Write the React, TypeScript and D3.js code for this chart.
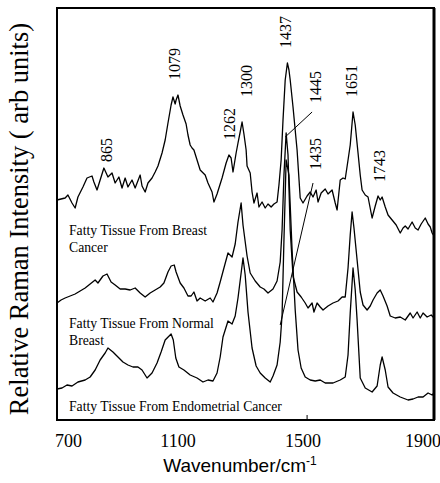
import React from "react";
import * as d3 from "d3";

// Fatty tissue from breast cancer (top trace)
const cancerWavenumber = [
  700, 713, 726, 735, 748, 758, 767, 783, 796, 812,
  818, 828, 838, 850, 863, 876, 886, 898, 908, 918,
  927, 940, 950, 966, 972, 982, 991, 1004, 1014, 1023,
  1036, 1046, 1055, 1065, 1071, 1078, 1081, 1087, 1094, 1103,
  1113, 1119, 1126, 1132, 1138, 1148, 1158, 1174, 1183, 1196,
  1202, 1212, 1228, 1241, 1250, 1257, 1263, 1273, 1279, 1286,
  1292, 1298, 1305, 1308, 1318, 1324, 1330, 1340, 1346, 1356,
  1366, 1375, 1385, 1394, 1404, 1410, 1417, 1423, 1430, 1437,
  1442, 1446, 1455, 1468, 1478, 1487, 1500, 1510, 1519, 1529,
  1535, 1545, 1558, 1567, 1580, 1590, 1596, 1606, 1615, 1622,
  1631, 1638, 1647, 1654, 1663, 1670, 1676, 1686, 1695, 1708,
  1718, 1727, 1734, 1740, 1750, 1759, 1772, 1785, 1798, 1807,
  1814, 1823, 1836, 1846, 1855, 1865, 1878, 1887, 1894, 1900,
  1906,
];
const cancerIntensity = [
  220, 221, 222, 225, 217, 212, 223, 233, 242, 244,
  238, 230, 240, 252, 243, 247, 237, 243, 232, 242,
  233, 240, 232, 245, 234, 228, 237, 242, 248, 254,
  267, 280, 297, 315, 323, 316, 320, 325, 314, 305,
  296, 285, 275, 272, 270, 260, 250, 245, 237, 228,
  218, 226, 242, 257, 265, 262, 248, 267, 277, 288,
  298, 286, 270, 254, 247, 228, 217, 227, 213, 218,
  212, 216, 213, 216, 218, 235, 260, 300, 340, 357,
  350, 340, 313, 270, 222, 217, 224, 228, 223, 230,
  218, 227, 231, 226, 230, 217, 210, 240, 242, 241,
  260, 275, 308, 295, 267, 245, 230, 225, 223, 202,
  214, 224, 220, 223, 213, 205, 200, 195, 187, 192,
  194, 191, 198, 192, 190, 196, 202, 196, 193, 187,
  184,
];

// Fatty tissue from normal breast (middle trace)
const normalWavenumber = [
  700, 713, 726, 742, 758, 774, 790, 806, 822, 831,
  847, 860, 873, 886, 902, 918, 934, 950, 966, 982,
  998, 1014, 1030, 1042, 1055, 1065, 1075, 1081, 1094, 1106,
  1119, 1129, 1138, 1148, 1158, 1174, 1190, 1199, 1212, 1222,
  1234, 1247, 1260, 1270, 1279, 1289, 1295, 1308, 1318, 1334,
  1350, 1362, 1375, 1391, 1404, 1414, 1420, 1426, 1433, 1439,
  1446, 1455, 1468, 1481, 1494, 1503, 1516, 1522, 1532, 1542,
  1551, 1567, 1583, 1599, 1612, 1622, 1631, 1638, 1644, 1650,
  1660, 1670, 1679, 1692, 1702, 1711, 1724, 1734, 1743, 1756,
  1766, 1782, 1798, 1814, 1830, 1839, 1852, 1862, 1871, 1884,
  1897, 1906,
];
const normalIntensity = [
  117, 120, 122, 124, 126, 129, 132, 136, 140, 137,
  144, 146, 138, 135, 131, 131, 130, 132, 127, 123,
  127, 130, 133, 137, 148, 154, 155, 148, 137, 132,
  124, 124, 128, 119, 122, 119, 122, 118, 127, 138,
  152, 167, 163, 176, 198, 217, 195, 164, 147, 139,
  133, 131, 127, 131, 139, 158, 190, 245, 287, 265,
  190, 144, 128, 123, 117, 112, 117, 108, 117, 113,
  110, 114, 117, 119, 123, 123, 152, 185, 208, 192,
  160, 128, 115, 110, 114, 120, 127, 130, 124, 114,
  104, 102, 103, 100, 107, 102, 108, 102, 107, 103,
  105, 102,
];

// Fatty tissue from endometrial cancer (bottom trace)
const endometrialWavenumber = [
  700, 716, 732, 748, 767, 790, 806, 822, 838, 854,
  863, 879, 895, 911, 927, 943, 959, 972, 988, 1004,
  1020, 1033, 1046, 1065, 1072, 1080, 1090, 1106, 1126, 1148,
  1167, 1183, 1199, 1212, 1222, 1231, 1247, 1260, 1270, 1279,
  1295, 1302, 1311, 1324, 1337, 1350, 1366, 1382, 1391, 1404,
  1414, 1420, 1426, 1433, 1442, 1452, 1462, 1471, 1481, 1494,
  1510, 1526, 1542, 1558, 1583, 1606, 1622, 1631, 1638, 1647,
  1654, 1660, 1670, 1686, 1708, 1724, 1734, 1740, 1750, 1759,
  1775, 1798, 1823, 1839, 1855, 1871, 1887, 1900, 1906,
];
const endometrialIntensity = [
  31, 32, 35, 34, 38, 40, 43, 50, 60, 67,
  72, 68, 63, 58, 55, 53, 53, 50, 42, 47,
  57, 68, 80, 86, 80, 62, 53, 50, 45, 42,
  38, 40, 39, 47, 63, 83, 99, 96, 104, 122,
  162, 145, 108, 72, 54, 47, 42, 38, 44, 55,
  78, 105, 180, 260, 245, 170, 110, 70, 52, 43,
  40, 39, 40, 37, 37, 40, 43, 65, 107, 152,
  130, 100, 42, 32, 28, 34, 55, 63, 50, 33,
  27, 23, 20, 21, 23, 23, 27, 25, 27,
];

const xTickValues = [700, 1100, 1500, 1900];
const peakLabels = ["865", "1079", "1262", "1300", "1437", "1445", "1435", "1651", "1743"];
const peakLabelWavenumber = [858, 1077, 1252, 1306, 1431, 1528, 1528, 1643, 1733];
const peakLabelIntensity = [258, 340, 280, 323, 372, 317, 250, 323, 238];

const sampleNames = [
  ["Fatty Tissue From Breast", "Cancer"],
  ["Fatty Tissue From Normal", "Breast"],
  ["Fatty Tissue From Endometrial Cancer"],
];
const sampleLabelIntensity = [185, 92, 9];

// leader lines: [from wavenumber, from intensity, to wavenumber, to intensity]
const leaderLines = [
  [1516, 308, 1430, 283],
  [1519, 237, 1414, 95],
];

const W = 440;
const H = 483;
const M = { left: 57, right: 434, top: 8, bottom: 420 };

export default function App() {
  const x = d3.scaleLinear().domain([700, 1906]).range([M.left, M.right]);
  const y = d3.scaleLinear().domain([0, 412]).range([M.bottom, M.top]);
  const line = d3
    .line<[number, number]>()
    .x((d) => x(d[0]))
    .y((d) => y(d[1]))
    .curve(d3.curveLinear);

  const series = [
    d3.zip(cancerWavenumber, cancerIntensity) as [number, number][],
    d3.zip(normalWavenumber, normalIntensity) as [number, number][],
    d3.zip(endometrialWavenumber, endometrialIntensity) as [number, number][],
  ];

  const serif = "'Liberation Serif', 'Times New Roman', serif";
  const sans = "'Liberation Sans', Arial, sans-serif";

  return (
    <svg width={W} height={H} style={{ position: "absolute", left: 0, top: 0, background: "#fff" }}>
      <rect x={0} y={0} width={W} height={H} fill="#fff" />
      {series.map((s, i) => (
        <path key={i} d={line(s) ?? ""} fill="none" stroke="#000" strokeWidth={1.3} strokeLinejoin="round" />
      ))}
      {leaderLines.map((l, i) => (
        <line key={i} x1={x(l[0])} y1={y(l[1])} x2={x(l[2])} y2={y(l[3])} stroke="#000" strokeWidth={1} />
      ))}
      {peakLabels.map((t, i) => {
        const px = x(peakLabelWavenumber[i]);
        const py = y(peakLabelIntensity[i]);
        return (
          <text
            key={t + i}
            transform={`translate(${px},${py}) rotate(-90)`}
            fontFamily={serif}
            fontSize={16}
            dominantBaseline="central"
            textAnchor="start"
          >
            {t}
          </text>
        );
      })}
      {sampleNames.map((lines, i) =>
        lines.map((t, j) => (
          <text key={`${i}-${j}`} x={69} y={y(sampleLabelIntensity[i]) + j * 17} fontFamily={serif} fontSize={13.7}>
            {t}
          </text>
        ))
      )}
      {/* frame */}
      <rect x={M.left} y={M.top} width={M.right - M.left} height={M.bottom - M.top} fill="none" stroke="#000" strokeWidth={2} />
      <line x1={M.right} y1={M.top} x2={M.right} y2={M.bottom} stroke="#000" strokeWidth={3} />
      <line x1={x(1500)} y1={M.bottom} x2={x(1500)} y2={M.bottom - 5} stroke="#000" strokeWidth={1} />
      {xTickValues.map((v, i) => {
        const last = i === xTickValues.length - 1;
        const anchor = i === 0 ? "start" : last ? "end" : "middle";
        const tx = i === 0 ? x(v) - 2 : last ? x(v) + 9 : x(v) - 4;
        return (
          <text key={v} x={tx} y={447} textAnchor={anchor} fontFamily={serif} fontSize={18}>
            {v}
          </text>
        );
      })}
      <text x={240} y={472} textAnchor="middle" fontFamily={sans} fontSize={19}>
        Wavenumber/cm
        <tspan fontSize={12} dy={-7}>-1</tspan>
      </text>
      <text
        transform={`translate(28,${(M.top + M.bottom) / 2 + 5}) rotate(-90)`}
        textAnchor="middle"
        fontFamily={serif}
        fontSize={26.5}
      >
        Relative Raman Intensity ( arb units)
      </text>
    </svg>
  );
}
